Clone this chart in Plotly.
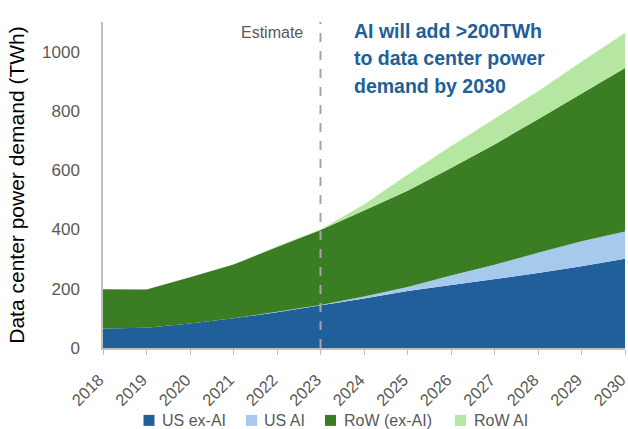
import plotly.graph_objects as go

years = list(range(2018, 2031))
us_ex_ai = [66, 68, 83, 100, 121, 143, 167, 192, 212, 231, 253, 276, 301]
us_ai = [0, 0, 0, 0, 1, 2, 7, 14, 33, 50, 68, 84, 92]
row_ex_ai = [132, 129, 156, 182, 219, 253, 290, 325, 362, 406, 451, 498, 552]
row_ai = [0, 0, 0, 0, 2, 2, 20, 54, 74, 88, 94, 108, 118]

names = ["US ex-AI", "US AI", "RoW (ex-AI)", "RoW AI"]
colors = ["#215F9A", "#A6CAEC", "#3B7D23", "#B5E6A2"]
values = [us_ex_ai, us_ai, row_ex_ai, row_ai]

W, H = 628, 429
L, R, T, B = 103, 3, 22, 80.5
PW, PH = W - L - R, H - T - B

def px(xp):
    return (xp - L) / PW

def py(yp):
    return (H - B - yp) / PH

fig = go.Figure()
for name, vals, col in zip(names, values, colors):
    fig.add_trace(go.Scatter(
        x=years, y=vals, name=name, stackgroup="one", mode="lines",
        line=dict(width=0, color=col), fillcolor=col, showlegend=False,
    ))

gray = "#595959"
fig.add_shape(type="line", x0=2023, x1=2023, y0=0, y1=1100, xref="x", yref="y",
              line=dict(color="#A6A6A6", width=2, dash="dash"), layer="above")
fig.add_annotation(x=2023, y=py(33), xref="x", yref="paper", text="Estimate",
                   showarrow=False, xanchor="right", yanchor="middle", xshift=-16,
                   font=dict(family="Liberation Sans", size=16, color=gray))

lines = ["AI will add >200TWh", "to data center power", "demand by 2030"]
for i, t in enumerate(lines):
    fig.add_annotation(x=px(352), y=py(31 + 27.5 * i), xref="paper", yref="paper", text=t,
                       showarrow=False, xanchor="left", yanchor="middle",
                       font=dict(family="Liberation Sans", size=19.5, color="#215F9A", weight="bold"))

# manual legend (small squares + labels)
sq_x = [143.5, 246, 325, 455]
tx_x = [159.5, 261.5, 341.5, 471.5]
for name, col, sx, tx in zip(names, colors, sq_x, tx_x):
    fig.add_shape(type="rect", xref="paper", yref="paper",
                  x0=px(sx), x1=px(sx + 11), y0=py(426.5), y1=py(415.5),
                  fillcolor=col, line=dict(width=0))
    fig.add_annotation(x=px(tx), y=py(421), xref="paper", yref="paper", text=name,
                       showarrow=False, xanchor="left", yanchor="middle",
                       font=dict(family="Liberation Sans", size=16, color=gray))

fig.update_layout(
    width=W, height=H, margin=dict(l=L, r=R, t=T, b=B),
    plot_bgcolor="white", paper_bgcolor="white",
    font=dict(family="Liberation Sans", color=gray),
    showlegend=False,
    xaxis=dict(range=[2018, 2030], tickmode="array", tickvals=years,
               ticktext=[str(y) for y in years], tickangle=-45,
               tickfont=dict(size=16.5, color=gray), showgrid=False,
               showline=True, linecolor="#BFBFBF", linewidth=1.5,
               ticks="outside", ticklen=5, tickcolor="#BFBFBF", zeroline=False,
               ticklabeloverflow="allow", ticklabelstandoff=9, ticklabelshift=-4,
               automargin=False),
    yaxis=dict(range=[0, 1100], tickvals=[0, 200, 400, 600, 800, 1000],
               tickfont=dict(size=17, color=gray), showgrid=False,
               showline=True, linecolor="#BFBFBF", linewidth=1.5, zeroline=False,
               ticks="", ticklabelstandoff=18, automargin=False,
               title=dict(text="Data center power demand (TWh)",
                          font=dict(size=21, color="#000000"), standoff=12)),
)

fig.write_html("out.html")
